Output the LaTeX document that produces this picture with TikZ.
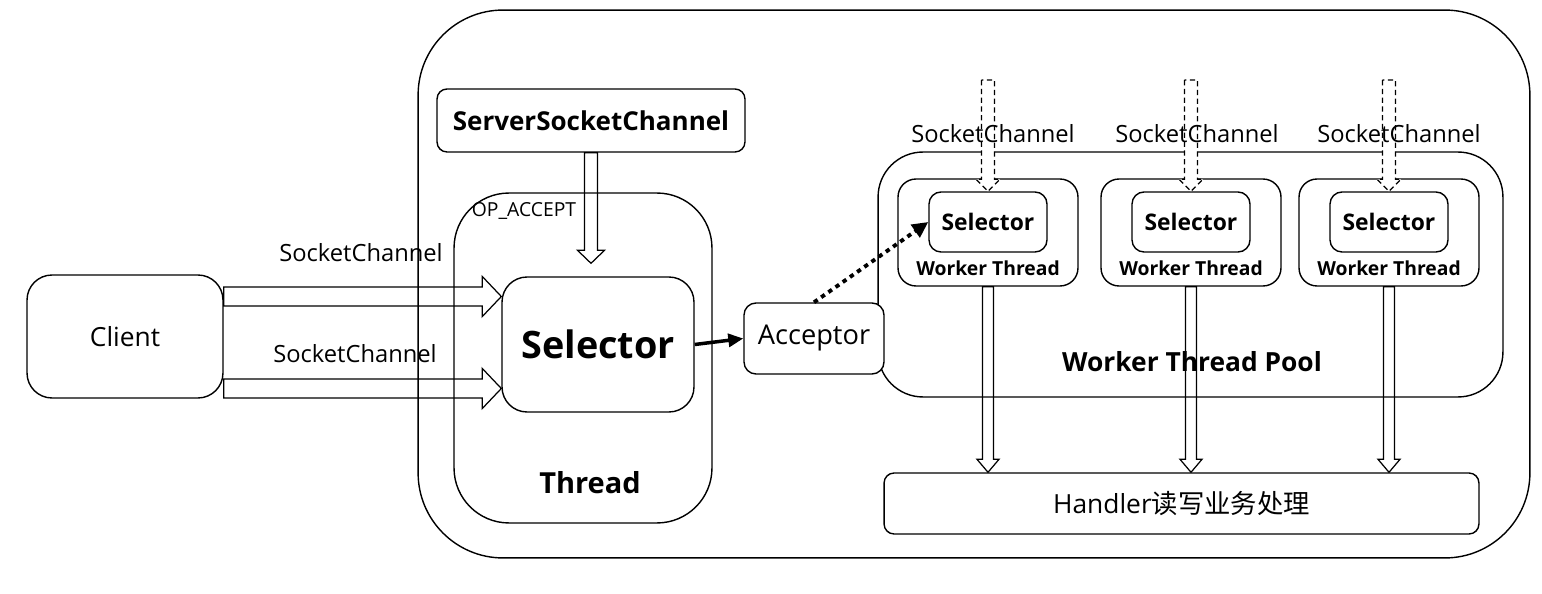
\documentclass[tikz,border=0pt]{standalone}
\usepackage{fontspec}
\setmainfont{Open Sans}
\newfontfamily\cjk{Noto Sans CJK SC}
\usetikzlibrary{arrows.meta, calc}
\pgfdeclarelayer{background}
\pgfsetlayers{background,main}
\tikzset{
  box/.style={draw, line width=0.8pt, fill=white, inner sep=0pt, align=center},
  frame/.style={draw, line width=0.8pt, inner sep=0pt},
  chan/.style={font=\fontsize{13.5}{16}\selectfont, inner sep=0pt},
  fatright/.style n args={3}{draw, line width=0.7pt, to path={
      let \p1=(\tikztostart), \p2=(\tikztotarget) in
      (\x1,{\y1+#1/2}) -- ({\x2-#3},{\y1+#1/2}) -- ({\x2-#3},{\y1+#2/2}) -- (\x2,\y1)
      -- ({\x2-#3},{\y1-#2/2}) -- ({\x2-#3},{\y1-#1/2}) -- (\x1,{\y1-#1/2}) -- cycle}},
  fatdown/.style n args={3}{draw, line width=0.7pt, to path={
      let \p1=(\tikztostart), \p2=(\tikztotarget) in
      ({\x1-#1/2},\y1) -- ({\x1-#1/2},{\y2+#3}) -- ({\x1-#2/2},{\y2+#3}) -- (\x1,\y2)
      -- ({\x1+#2/2},{\y2+#3}) -- ({\x1+#1/2},{\y2+#3}) -- ({\x1+#1/2},\y1) -- cycle}},
}

\begin{document}
\begin{tikzpicture}[x=0.02cm, y=-0.02cm]
\useasboundingbox (0,0) rectangle (1542,594);

% frames
\node[frame, rounded corners=1.7cm, minimum width=22.24cm, minimum height=10.96cm] (server) at (974,284) {};
\node[frame, rounded corners=1.1cm, minimum width=5.16cm, minimum height=6.6cm] (thread) at (583,358) {};
\node[frame, rounded corners=0.9cm, minimum width=12.5cm, minimum height=4.9cm] (pool) at (1190.5,274.5) {};

\node[font=\fontsize{11}{13}\selectfont, inner sep=0pt] (opaccept) at (524,211) {OP\_ACCEPT};
\node[font=\fontsize{16.5}{19}\selectfont\bfseries, inner sep=0pt] (threadlbl) at (590,483) {Thread};
\node[font=\fontsize{15}{18}\selectfont\bfseries, inner sep=0pt] (poollbl) at (1192,362) {Worker Thread Pool};

\node[box, rounded corners=0.2cm, minimum width=6.16cm, minimum height=1.26cm,
  font=\fontsize{14.8}{17}\selectfont\bfseries] (ssc) at (591,120.5) {ServerSocketChannel};
\node[box, rounded corners=0.5cm, minimum width=3.84cm, minimum height=2.7cm,
  font=\fontsize{21.5}{25}\selectfont\bfseries] (sel) at (598,344.5) {Selector};
\node[box, rounded corners=0.5cm, minimum width=3.92cm, minimum height=2.46cm,
  font=\fontsize{15}{17}\selectfont] (client) at (125,336.5) {Client};
\node[box, rounded corners=0.24cm, minimum width=2.8cm, minimum height=1.42cm,
  font=\fontsize{15.5}{17}\selectfont] (acc) at (814,338.5) {Acceptor};
\node[box, rounded corners=0.2cm, minimum width=11.9cm, minimum height=1.22cm,
  font=\fontsize{15}{17}\selectfont] (handler) at (1181.5,503.5) {Handler{\cjk 读写业务处理}};

\node[chan] (c1) at (361,253) {SocketChannel};
\node[chan] (c2) at (355,354) {SocketChannel};

\foreach \i/\x/\d in {1/988/5, 2/1191/6, 3/1389/10} {
  \node[box, rounded corners=0.36cm, minimum width=3.6cm, minimum height=2.14cm] (w\i) at (\x,232.5) {};
  \node[box, rounded corners=0.24cm, minimum width=2.36cm, minimum height=1.2cm,
    font=\fontsize{13}{16}\selectfont\bfseries] (ws\i) at (\x,222) {Selector};
  \node[font=\fontsize{11}{13}\selectfont\bfseries, inner sep=0pt] (wt\i) at (\x,268) {Worker Thread};
  \coordinate (in\i) at (\x,80);
  \draw[fatdown={0.26cm}{0.48cm}{0.24cm}, fill=white, dash pattern=on 3pt off 2pt] (in\i) to (ws\i.north);
  \node[chan] (wc\i) at (\x+\d,134) {SocketChannel};
  \begin{pgfonlayer}{background}
    \draw[fatdown={0.22cm}{0.44cm}{0.26cm}] (w\i.south) to (handler.north);
  \end{pgfonlayer}
}

\begin{pgfonlayer}{background}
  \draw[fatdown={0.26cm}{0.54cm}{0.26cm}] (ssc.south) to ([yshift=0.26cm]sel.north);
  \draw[fatright={0.38cm}{0.8cm}{0.38cm}] ([yshift=0.8cm]client.east) to (sel.west);
  \draw[fatright={0.38cm}{0.8cm}{0.38cm}] ([yshift=-1.04cm]client.east) to (sel.west);
\end{pgfonlayer}

\draw[line width=2pt, -{Triangle[length=0.3cm, width=0.26cm]}] (sel.east) -- (acc.west);
\draw[line width=2.2pt, dash pattern=on 2.5pt off 2.5pt, -{Triangle[length=0.32cm, width=0.3cm]}] (acc.north) -- (ws1.west);
\end{tikzpicture}
\end{document}
